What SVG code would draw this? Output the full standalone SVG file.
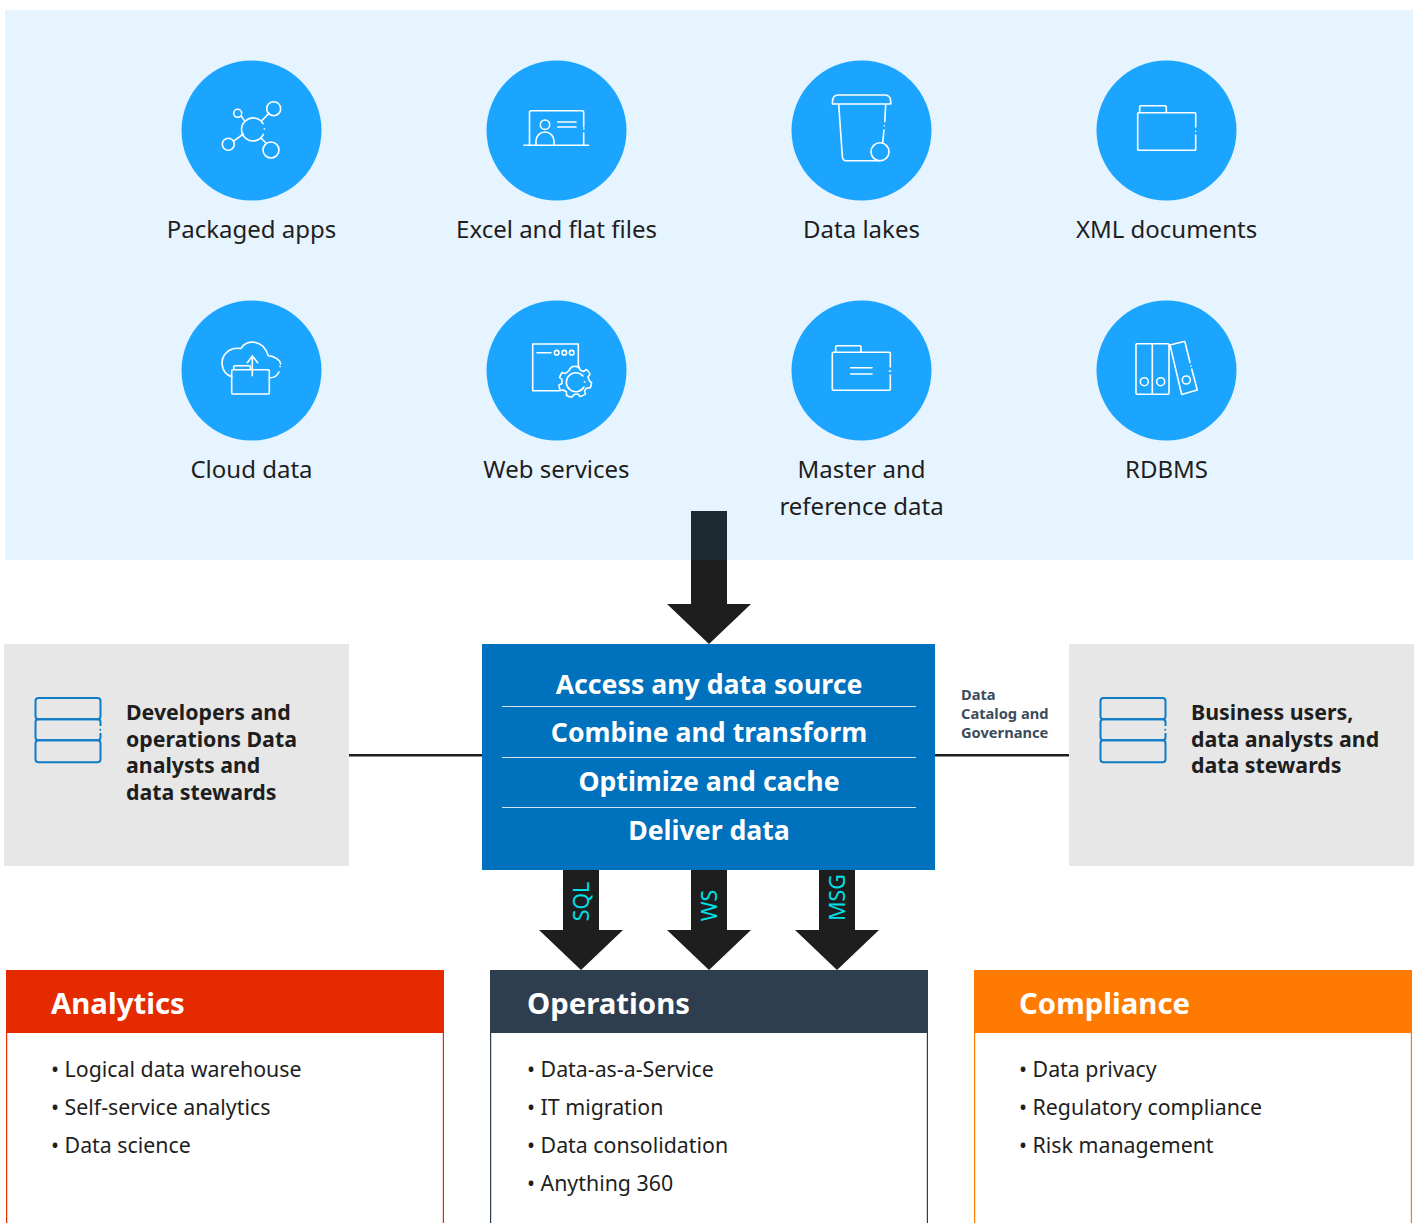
<svg xmlns="http://www.w3.org/2000/svg" width="1417" height="1223" viewBox="0 0 1417 1223">
<style>
text{font-family:"Noto Sans","Open Sans","DejaVu Sans",sans-serif}
.lab{font-size:24px;fill:#1e1e1e;text-anchor:middle}
.circ{fill:#1ca5ff}
.ic{fill:none;stroke:#fff;stroke-width:1.6;stroke-linecap:round;stroke-linejoin:round}
.st{fill:none;stroke:#0f7cc6;stroke-width:2;stroke-linejoin:round}
.who{font-size:21.330px;font-weight:700;fill:#1e1e1e}
.gov{font-size:14.670px;font-weight:700;fill:#3c4c5c}
.core{font-size:26.670px;font-weight:700;fill:#fff;text-anchor:middle}
.sep{stroke:#cfe3f3;stroke-width:1}
.ar{fill:#1e1e1e}
.proto{font-size:21.330px;fill:#00e0e8;text-anchor:middle}
.head{font-size:29.330px;font-weight:700;fill:#fff}
.item{font-size:21.330px;fill:#1e1e1e}
.cardb{fill:#fff;stroke-width:1.2}
</style>
<rect id="sources-background" x="5" y="10" width="1408" height="550" fill="#e6f4ff"/>
<g id="packaged-apps"><circle class="circ" cx="251.500" cy="130.500" r="70"/>
<path class="ic" d="M263 123.700A11.500 11.500 0 1 0 263.400 134.400M264.300 129h.2M233.700 113.300a4 4 0 1 0 8 0a4 4 0 1 0-8 0M266.700 108.700a7 7 0 1 0 14 0a7 7 0 1 0-14 0M222.300 144.300a6 6 0 1 0 12 0a6 6 0 1 0-12 0M263 150a8 8 0 1 0 16 0a8 8 0 1 0-16 0M241.700 116.700L244 120M269 113.300L261.700 120.700M234.300 140.700L243.300 134M265.700 142.700L260.700 137.700"/>
<text class="lab" x="251.500" y="238">Packaged apps</text></g>
<g id="excel-flat-files"><circle class="circ" cx="556.500" cy="130.500" r="70"/>
<path class="ic" d="M529.500 145V112.500q0-1.800 1.800-1.800H582q1.700 0 1.700 1.800V127M583.700 133V145M524 145.300H588.500M536 145v-4a9 9 0 0 1 18 0v4M557.700 122H576M557.700 127H576M583.700 129h.3"/>
<circle class="ic" cx="545" cy="124.700" r="4.700"/>
<text class="lab" x="556.500" y="238">Excel and flat files</text></g>
<g id="data-lakes"><circle class="circ" cx="861.500" cy="130.500" r="70"/>
<path class="ic" d="M838.700 104H832.500V102Q832.500 95 838 95H885Q890.700 95 890.700 102V104H838.700L842.300 156Q842.500 160.700 846 160.700H880M885.700 104L884.800 121.700M884.300 125.700h.1M884 130L882.700 142.700"/>
<circle class="ic" cx="880" cy="151.700" r="9"/>
<text class="lab" x="861.500" y="238">Data lakes</text></g>
<g id="xml-documents"><circle class="circ" cx="1166.500" cy="130.500" r="70"/>
<path class="ic" d="M1195.700 127V113.500q0-.8-.8-.8H1138.500q-.8 0-.8.8V149.500q0 .8.800.8H1194.900q.8 0 .8-.8V135M1139.700 112.700V107q0-1.300 1.300-1.300H1165q1.300 0 1.300 1.300V112.700M1195.700 131.300h.1"/>
<text class="lab" x="1166.500" y="238">XML documents</text></g>
<g id="cloud-data"><circle class="circ" cx="251.500" cy="370.500" r="70"/>
<path class="ic" d="M231.700 376.700C221 373 218 358 229 350.500C233 348 238 348 241 348.500C246 339 263 339 268.300 355.700C276 356 281 362 280.500 364M279 372C277 376 273 378 269.300 377.700M280 366.500h.2" stroke-width="1.300"/>
<path class="ic" d="M233 369.700H268.300q1 0 1 1V393q0 1-1 1H232.700q-1 0-1-1V370.700q0-1 1.300-1M233.700 369.700V367q0-1.300 1.300-1.300H249q1.300 0 1.300 1.300V369.700M252.300 355.700V375.700M247.300 362.700L252.300 356L257.700 362.700"/>
<text class="lab" x="251.500" y="478">Cloud data</text></g>
<g id="web-services"><circle class="circ" cx="556.500" cy="370.500" r="70"/>
<path class="ic" d="M578.300 367.700V344H532.700V390.700H560M537 352.700H551"/>
<circle class="ic" cx="556.700" cy="352.700" r="2.300"/><circle class="ic" cx="564.300" cy="352.700" r="2.300"/><circle class="ic" cx="571.700" cy="352.700" r="2.300"/>
<path class="ic" d="M571.500 367L573 366.500Q576 366 579 367L580 370L583.500 371.500L586.500 369.500Q589 371.500 590 374L588 377L589.500 381L591.500 382.500Q591.500 385.500 590 388L586.500 388L584.500 391L585.500 394Q583 396 580 396.500L578 394L574 394.500L572 397Q569 397 566.500 395.500L566.500 392L563.500 390L560.500 390.500Q559 388 559 385L562 383.500L562 379.500L559.500 377.500Q560.500 375 562 372.500L565.500 373.500L568.500 371Z"/>
<path class="ic" d="M583 376A9.500 9.500 0 1 0 584 387M584.500 382h.3"/>
<text class="lab" x="556.500" y="478">Web services</text></g>
<g id="master-reference-data"><circle class="circ" cx="861.500" cy="370.500" r="70"/>
<path class="ic" d="M890.300 367V353.300q0-1-1-1H833.300q-1 0-1 1V389.300q0 1 1 1H889.300q1 0 1-1V375M835.700 352.300V347q0-1.300 1.300-1.300H859.700q1.300 0 1.300 1.300V352.300M850.700 367.700H872M850.700 374H872M889.500 371h1"/>
<text class="lab" x="861.500" y="478">Master and</text><text class="lab" x="861.500" y="515">reference data</text></g>
<g id="rdbms"><circle class="circ" cx="1166.500" cy="370.500" r="70"/>
<path class="ic" d="M1152.300 344.700q0-1-1-1H1137q-1 0-1 1V393.300q0 1 1 1H1151.300q1 0 1-1ZM1152.300 344.700q0-1 1-1H1168q1 0 1 1V393.300q0 1-1 1H1153.300q-1 0-1-1ZM1170 345L1184 341.500q.7-.2 1 .7L1190 362.500M1191.700 369L1197.300 390L1182.500 394.300q-.7.200-1-.6L1170 345M1191 366h.2"/>
<circle class="ic" cx="1144.300" cy="381.700" r="4"/><circle class="ic" cx="1160.700" cy="381.700" r="4"/><circle class="ic" cx="1186.300" cy="380" r="4"/>
<text class="lab" x="1166.500" y="478">RDBMS</text></g>
<g id="connectors">
<path class="ar" d="M691 560H727V604H751L709 644L667 604H691Z"/>
<rect x="691" y="511" width="36" height="49" fill="#1c2a32"/>
<rect x="349" y="754" width="133" height="2.500" fill="#1e1e1e"/>
<rect x="935" y="754" width="134" height="2.500" fill="#1e1e1e"/>
<path class="ar" d="M563 870H599V930H623L581 970L539 930H563Z"/>
<path class="ar" d="M691 870H727V930H751L709 970L667 930H691Z"/>
<path class="ar" d="M819 870H855V930H879L837 970L795 930H819Z"/>
<text class="proto" transform="translate(589 901.500) rotate(-90)">SQL</text>
<text class="proto" transform="translate(717 905.500) rotate(-90)">WS</text>
<text class="proto" transform="translate(845 897.500) rotate(-90)">MSG</text>
</g>
<g id="developers"><rect x="4" y="644" width="345" height="222" fill="#e7e7e7"/>
<rect class="st" x="35.500" y="698" width="65" height="21.300" rx="3"/><path class="st" d="M100.500 726V722.300q0-3-3-3H38.500q-3 0-3 3V737.300q0 3 3 3H97.500q3 0 3-3V733M99.500 729.700h1.500"/><rect class="st" x="35.500" y="740.300" width="65" height="22" rx="3"/>
<text class="who" x="126" y="720">Developers and</text><text class="who" x="126" y="747">operations Data</text><text class="who" x="126" y="773">analysts and</text><text class="who" x="126" y="800">data stewards</text></g>
<g id="data-virtualization"><rect x="482" y="644" width="453" height="226" fill="#0071bc"/>
<line class="sep" x1="502" y1="706.500" x2="916" y2="706.500"/><line class="sep" x1="502" y1="757.500" x2="916" y2="757.500"/><line class="sep" x1="502" y1="807.500" x2="916" y2="807.500"/>
<text class="core" x="709" y="694">Access any data source</text><text class="core" x="709" y="742">Combine and transform</text><text class="core" x="709" y="791">Optimize and cache</text><text class="core" x="709" y="840">Deliver data</text></g>
<g id="data-catalog-label"><text class="gov" x="961" y="700">Data</text><text class="gov" x="961" y="719">Catalog and</text><text class="gov" x="961" y="738">Governance</text></g>
<g id="business-users"><rect x="1069" y="644" width="345" height="222" fill="#e7e7e7"/>
<rect class="st" x="1100.500" y="698" width="65" height="21.300" rx="3"/><path class="st" d="M1165.500 726V722.300q0-3-3-3H1103.500q-3 0-3 3V737.300q0 3 3 3H1162.500q3 0 3-3V733M1164.500 729.700h1.500"/><rect class="st" x="1100.500" y="740.300" width="65" height="22" rx="3"/>
<text class="who" x="1191" y="720">Business users,</text><text class="who" x="1191" y="747">data analysts and</text><text class="who" x="1191" y="773">data stewards</text></g>
<g id="analytics"><rect class="cardb" x="6.600" y="1000" width="436.800" height="240" stroke="#e62a00"/><rect x="6" y="970" width="438" height="63" fill="#e62a00"/>
<text class="head" x="51" y="1014">Analytics</text>
<text class="item" x="51" y="1077">• Logical data warehouse</text><text class="item" x="51" y="1115">• Self-service analytics</text><text class="item" x="51" y="1153">• Data science</text></g>
<g id="operations"><rect class="cardb" x="490.600" y="1000" width="436.800" height="240" stroke="#2e3e4e"/><rect x="490" y="970" width="438" height="63" fill="#2e3e4e"/>
<text class="head" x="527" y="1014">Operations</text>
<text class="item" x="527" y="1077">• Data-as-a-Service</text><text class="item" x="527" y="1115">• IT migration</text><text class="item" x="527" y="1153">• Data consolidation</text><text class="item" x="527" y="1191">• Anything 360</text></g>
<g id="compliance"><rect class="cardb" x="974.600" y="1000" width="436.800" height="240" stroke="#ff7a00"/><rect x="974" y="970" width="438" height="63" fill="#ff7a00"/>
<text class="head" x="1019" y="1014">Compliance</text>
<text class="item" x="1019" y="1077">• Data privacy</text><text class="item" x="1019" y="1115">• Regulatory compliance</text><text class="item" x="1019" y="1153">• Risk management</text></g>
</svg>
